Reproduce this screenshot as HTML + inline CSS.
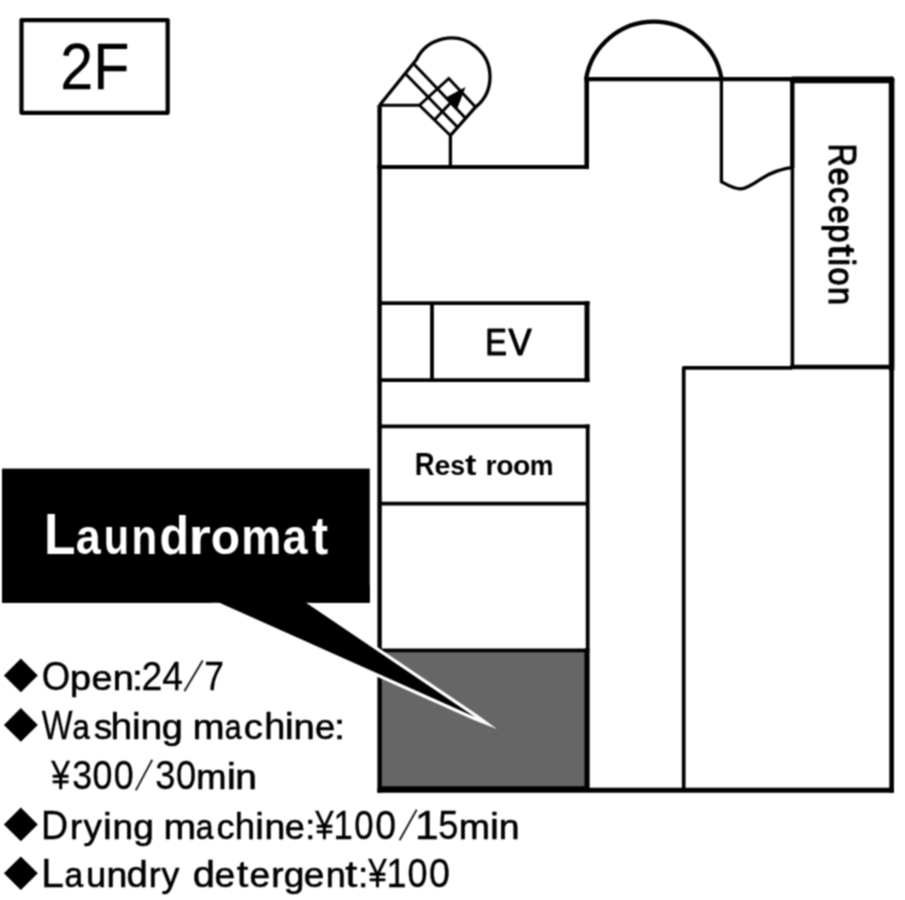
<!DOCTYPE html>
<html><head><meta charset="utf-8"><title>2F Floor Map</title>
<style>
html,body{margin:0;padding:0;background:#fff;}
body{width:905px;height:900px;overflow:hidden;font-family:"Liberation Sans",sans-serif;}
svg{display:block;will-change:transform;}
text{font-family:"Liberation Sans",sans-serif;white-space:pre;stroke-linejoin:round;}
</style></head><body>
<svg width="905" height="900" viewBox="0 0 905 900">
<defs><filter id="soft" x="0" y="0" width="905" height="900" filterUnits="userSpaceOnUse"><feConvolveMatrix order="3" kernelMatrix="1 2 1 2 4 2 1 2 1" divisor="16" edgeMode="duplicate" preserveAlpha="true" color-interpolation-filters="sRGB"/></filter></defs>
<rect width="905" height="900" fill="#fff"/>
<g filter="url(#soft)">
<rect width="905" height="900" fill="#fff"/>

<!-- 2F label -->
<rect x="21.5" y="20.2" width="146.2" height="92.6" fill="#fff" stroke="#000" stroke-width="4.2" stroke-linejoin="round"/>
<text transform="translate(0 89.2) scale(0.924 1.0)" x="65.11 101.04" y="0" font-size="64" fill="#000" stroke="#000" stroke-width="0.3">2F</text>

<!-- gray laundromat room -->
<rect x="381" y="651" width="205" height="137" fill="#666"/>

<!-- walls -->
<g fill="none" stroke="#000" stroke-linecap="butt" stroke-linejoin="miter">
  <!-- outer walls -->
  <path d="M379.6 105 V792.8" stroke-width="4.4"/>
  <path d="M377.4 790.3 H893.9" stroke-width="5"/>
  <path d="M377.4 167 H589" stroke-width="4.2"/>
  <path d="M586.7 169.1 V76.9" stroke-width="4.6"/>
  <path d="M584.4 79.1 H792" stroke-width="4.4"/>
  <path d="M891.6 366 V792.8" stroke-width="4.6"/>
  <!-- reception box -->
  <path d="M793 79.9 H890.9" stroke-width="6.8" stroke-linecap="round"/>
  <path d="M891.6 79.4 V369" stroke-width="5.6" stroke-linecap="round"/>
  <path d="M792.3 79 V168" stroke-width="4.4"/>
  <path d="M792.4 168 V367" stroke-width="3.6"/>
  <path d="M790.5 367 H894" stroke-width="4.6"/>
  <!-- large right box -->
  <path d="M683.7 790 V367.8 H792" stroke-width="3.7" stroke-linejoin="round"/>
  <!-- EV -->
  <path d="M379.6 303.1 H589.5" stroke-width="3.8"/>
  <path d="M379.6 380.2 H589.5" stroke-width="3.8"/>
  <path d="M587 301.2 V382.1" stroke-width="5"/>
  <path d="M432 303.1 V380.2" stroke-width="3.8"/>
  <!-- rest room column -->
  <path d="M379.6 426.4 H589.6" stroke-width="3.8"/>
  <path d="M379.6 503.6 H587.7" stroke-width="3.8"/>
  <path d="M379.6 650.3 H587.7" stroke-width="3.8"/>
  <path d="M587.7 424.5 V650" stroke-width="3.8"/>
  <path d="M587.05 648.4 V790" stroke-width="5.2"/>
  <path d="M379.6 787.2 H587" stroke-width="2"/>
  <!-- door swing -->
  <path d="M721.4 79 V181.7 C727.5 185 734 188.9 740.6 188.9 S756.8 181.7 762.8 177.8 S783 168 791 167.8" stroke-width="3.3" stroke-linejoin="round"/>
  <!-- dome -->
  <path d="M586.2 78 A68.7 68.7 0 0 1 721.4 78" stroke-width="4.2"/>
  <!-- stairs -->
  <path d="M379.6 105.3 L416.5 59.5 A38.8 38.8 0 1 1 475.5 107.1 L450.4 135.5 V167" stroke-width="3.3" stroke-linejoin="round"/>
  <g stroke-width="2.9">
    <path d="M379.6 105.3 H419.4 L450.4 135.5"/>
    <path d="M413.4 63.4 L465.6 118.2"/>
    <path d="M405.2 73.6 L457.6 127.2"/>
    <path d="M419.4 105.3 L448.8 78.5 L475.5 107.1"/>
    <path d="M434.6 119.8 L458 95"/>
  </g>
</g>
<polygon points="465.5,87 446.5,97.3 457.5,108" fill="#000"/>

<!-- callout -->
<rect x="2" y="468.6" width="367.8" height="134.2" fill="#000"/>
<polygon points="203.2,599 306.2,599 476.8,714.35 497,729 473.7,719.9" fill="#fff"/>
<polygon points="211,599 300.5,599 475,717" fill="#000"/>
<rect x="2" y="585" width="367.8" height="17.8" fill="#000"/>
<text transform="translate(0 554.4) scale(0.913 1.0)" x="48.15 83.00 113.73 144.06 174.67 206.59 230.91 264.18 309.40 341.78" y="0" font-size="49.3" fill="#fff" font-weight="bold"><tspan font-size="56.5">L</tspan>a<tspan textLength="27.71" lengthAdjust="spacingAndGlyphs">u</tspan><tspan textLength="28.12" lengthAdjust="spacingAndGlyphs">n</tspan><tspan font-size="53">d</tspan><tspan textLength="24.49" lengthAdjust="spacingAndGlyphs">r</tspan><tspan textLength="32.15" lengthAdjust="spacingAndGlyphs">o</tspan>ma<tspan font-size="53">t</tspan></text>

<!-- room labels -->
<text transform="translate(0 354.8) scale(0.941 1.0)" x="515.71 540.26" y="0" font-size="36.8" fill="#000" stroke="#000" stroke-width="1.1"><tspan textLength="23.01" lengthAdjust="spacingAndGlyphs">E</tspan>V</text>
<text transform="translate(0 475.3) scale(1.051 1.0)" x="394.65 413.51 428.43 442.44" y="0" font-size="27" fill="#000" font-weight="bold"><tspan font-size="31" textLength="18.84" lengthAdjust="spacingAndGlyphs">R</tspan>e<tspan textLength="14.12" lengthAdjust="spacingAndGlyphs">s</tspan><tspan font-size="29.5" textLength="10.89" lengthAdjust="spacingAndGlyphs">t</tspan></text>
<text transform="translate(0 475.3) scale(1.050 1.0)" x="462.47 472.55 488.55 504.41" y="0" font-size="27" fill="#000" font-weight="bold">roo<tspan textLength="22.59" lengthAdjust="spacingAndGlyphs">m</tspan></text>
<text transform="translate(829 146) rotate(90) translate(0 0) scale(0.941 1.0)" x="-2.79 22.85 43.69 63.22 83.52 104.65 119.47 129.06 149.75" y="0" font-size="34.5" fill="#000" stroke="#000" stroke-width="1.2"><tspan font-size="38.5" stroke-width="1.0" textLength="24.55" lengthAdjust="spacingAndGlyphs">R</tspan>ecep<tspan font-size="36.5" stroke-width="1.1" textLength="12.93" lengthAdjust="spacingAndGlyphs">t</tspan><tspan font-size="36.5" stroke-width="1.1">i</tspan>on</text>

<!-- info list -->
<g fill="#000">
<polygon points="3.9,675.4 20.85,658.6 37.8,675.4 20.85,692.2"/>
<polygon points="3.9,724.9 20.85,708.1 37.8,724.9 20.85,741.7"/>
<polygon points="3.9,824.4 20.85,807.6 37.8,824.4 20.85,841.2"/>
<polygon points="3.9,873.2 20.85,856.4 37.8,873.2 20.85,890.0"/>
</g>
<g stroke="#1a1a1a" stroke-width="1.9" stroke-linecap="butt" fill="none">
<path d="M184.4 691.2 L202.7 660.6"/>
<path d="M135.8 790.4 L152.2 759.8"/>
<path d="M399.6 840.2 L416.7 809.6"/>
</g>
<text transform="translate(0 689.6) scale(1.078 1.0)" x="38.75 64.94 84.81 104.51 122.67 131.21 150.54" y="0" font-size="35" fill="#000" stroke="#000" stroke-width="0.6"><tspan font-size="40.5" stroke-width="0.3" textLength="26.43" lengthAdjust="spacingAndGlyphs">O</tspan>pen:<tspan font-size="40.5" stroke-width="0.3" textLength="19.37" lengthAdjust="spacingAndGlyphs">2</tspan><tspan font-size="40.5" stroke-width="0.3" textLength="19.25" lengthAdjust="spacingAndGlyphs">4</tspan></text>
<text transform="translate(0 689.6) scale(0.874 1.0)" x="233.72" y="0" font-size="35" fill="#000" stroke="#000" stroke-width="0.6"><tspan font-size="40.5" stroke-width="0.3">7</tspan></text>
<text transform="translate(0 739.1) scale(1.042 1.0)" x="40.18 69.57 90.31 106.01 126.67 134.86 155.31" y="0" font-size="35" fill="#000" stroke="#000" stroke-width="0.6"><tspan font-size="40.5" stroke-width="0.3" textLength="29.52" lengthAdjust="spacingAndGlyphs">W</tspan><tspan textLength="16.52" lengthAdjust="spacingAndGlyphs">a</tspan>s<tspan font-size="37.5" stroke-width="0.5">h</tspan><tspan font-size="37.5" stroke-width="0.5">i</tspan><tspan textLength="20.86" lengthAdjust="spacingAndGlyphs">n</tspan><tspan textLength="20.18" lengthAdjust="spacingAndGlyphs">g</tspan></text>
<text transform="translate(0 739.1) scale(1.090 1.0)" x="176.77 206.15 223.63 242.45 261.31 269.25 288.98 306.77" y="0" font-size="35" fill="#000" stroke="#000" stroke-width="0.6">m<tspan textLength="15.40" lengthAdjust="spacingAndGlyphs">a</tspan>c<tspan font-size="37.5" stroke-width="0.5" textLength="19.36" lengthAdjust="spacingAndGlyphs">h</tspan><tspan font-size="37.5" stroke-width="0.5">i</tspan>n<tspan textLength="18.49" lengthAdjust="spacingAndGlyphs">e</tspan>:</text>
<text transform="translate(0 788.8) scale(0.883 1.0)" x="58.12 81.75 104.73 128.79" y="0" font-size="35" fill="#000" stroke="#000" stroke-width="0.6"><tspan font-size="40.5" stroke-width="0.3" textLength="21.19" lengthAdjust="spacingAndGlyphs">¥</tspan><tspan font-size="40.5" stroke-width="0.3">3</tspan><tspan font-size="40.5" stroke-width="0.3">0</tspan><tspan font-size="40.5" stroke-width="0.3">0</tspan></text>
<text transform="translate(0 788.8) scale(1.110 1.0)" x="139.87 158.58 176.88 204.27 211.96" y="0" font-size="35" fill="#000" stroke="#000" stroke-width="0.6"><tspan font-size="40.5" stroke-width="0.3" textLength="18.18" lengthAdjust="spacingAndGlyphs">3</tspan><tspan font-size="40.5" stroke-width="0.3" textLength="18.14" lengthAdjust="spacingAndGlyphs">0</tspan><tspan textLength="27.21" lengthAdjust="spacingAndGlyphs">m</tspan><tspan font-size="37.5" stroke-width="0.5">i</tspan>n</text>
<text transform="translate(0 838.6) scale(1.055 1.0)" x="38.98 66.41 79.18 97.63 106.73 126.34" y="0" font-size="35" fill="#000" stroke="#000" stroke-width="0.6"><tspan font-size="40.5" stroke-width="0.3" textLength="25.78" lengthAdjust="spacingAndGlyphs">D</tspan>ry<tspan font-size="37.5" stroke-width="0.5">i</tspan>ng</text>
<text transform="translate(0 838.6) scale(1.029 1.0)" x="158.99 190.22 210.30 228.24 248.17 257.05 276.84 296.59" y="0" font-size="35" fill="#000" stroke="#000" stroke-width="0.6"><tspan textLength="31.66" lengthAdjust="spacingAndGlyphs">m</tspan><tspan textLength="17.26" lengthAdjust="spacingAndGlyphs">a</tspan>c<tspan font-size="37.5" stroke-width="0.5" textLength="19.73" lengthAdjust="spacingAndGlyphs">h</tspan><tspan font-size="37.5" stroke-width="0.5">i</tspan><tspan textLength="20.23" lengthAdjust="spacingAndGlyphs">n</tspan>e:</text>
<text transform="translate(0 838.6) scale(0.857 1.0)" x="367.76 389.26 413.26 437.86" y="0" font-size="35" fill="#000" stroke="#000" stroke-width="0.6"><tspan font-size="40.5" stroke-width="0.3" textLength="21.48" lengthAdjust="spacingAndGlyphs">¥</tspan><tspan font-size="40.5" stroke-width="0.3">1</tspan><tspan font-size="40.5" stroke-width="0.3">0</tspan><tspan font-size="40.5" stroke-width="0.3" textLength="24.29" lengthAdjust="spacingAndGlyphs">0</tspan></text>
<text transform="translate(0 838.6) scale(1.069 1.0)" x="387.94 409.90 429.21 458.44 466.63" y="0" font-size="35" fill="#000" stroke="#000" stroke-width="0.6"><tspan font-size="40.5" stroke-width="0.3">1</tspan><tspan font-size="40.5" stroke-width="0.3" textLength="18.87" lengthAdjust="spacingAndGlyphs">5</tspan>m<tspan font-size="37.5" stroke-width="0.5">i</tspan>n</text>
<text transform="translate(0 887.4) scale(1.020 1.0)" x="40.25 63.22 84.47 104.43 124.12 145.86 158.41" y="0" font-size="35" fill="#000" stroke="#000" stroke-width="0.6"><tspan font-size="40.5" stroke-width="0.3">L</tspan><tspan textLength="18.26" lengthAdjust="spacingAndGlyphs">a</tspan>u<tspan textLength="20.41" lengthAdjust="spacingAndGlyphs">n</tspan><tspan font-size="37.5" stroke-width="0.5">d</tspan>ry</text>
<text transform="translate(0 887.4) scale(1.061 1.0)" x="181.57 202.19 223.16 235.16 255.68 267.36 286.41 306.97 325.45 337.32" y="0" font-size="35" fill="#000" stroke="#000" stroke-width="0.6"><tspan font-size="37.5" stroke-width="0.5">d</tspan>e<tspan font-size="37.5" stroke-width="0.5" textLength="10.86" lengthAdjust="spacingAndGlyphs">t</tspan>erge<tspan textLength="18.75" lengthAdjust="spacingAndGlyphs">n</tspan><tspan font-size="37.5" stroke-width="0.5" textLength="11.38" lengthAdjust="spacingAndGlyphs">t</tspan>:</text>
<text transform="translate(0 887.4) scale(0.888 1.0)" x="414.82 435.21 458.78 483.25" y="0" font-size="35" fill="#000" stroke="#000" stroke-width="0.6"><tspan font-size="40.5" stroke-width="0.3" textLength="20.84" lengthAdjust="spacingAndGlyphs">¥</tspan><tspan font-size="40.5" stroke-width="0.3">1</tspan><tspan font-size="40.5" stroke-width="0.3">0</tspan><tspan font-size="40.5" stroke-width="0.3" textLength="23.57" lengthAdjust="spacingAndGlyphs">0</tspan></text>
</g>
</svg>
</body></html>
